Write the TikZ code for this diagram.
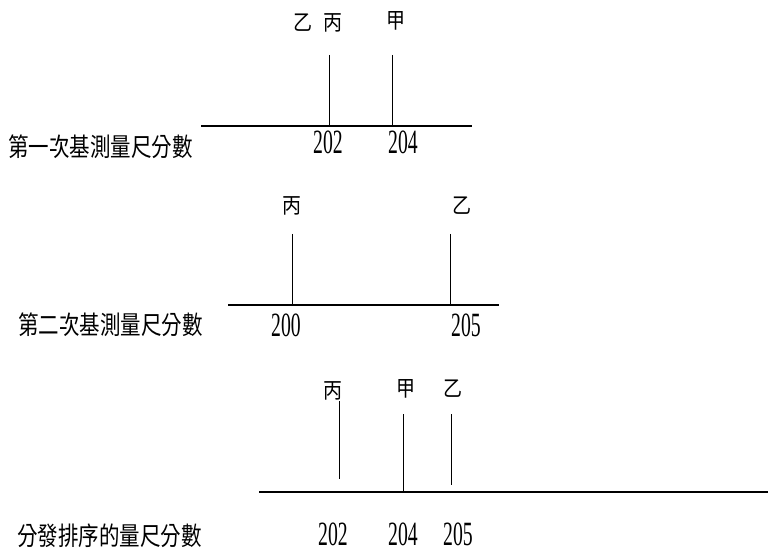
\documentclass[tikz,border=0pt]{standalone}
\usepackage{fontspec}
\newfontfamily\cjk{Noto Sans CJK TC}
\setmainfont{Liberation Serif}
\begin{document}
\begin{tikzpicture}[x=1pt,y=-1pt,
  axis/.style={line width=1.5pt},
  tick/.style={line width=0.9pt},
  rowlabel/.style={font=\cjk\fontsize{20.5}{20.5}\selectfont, inner sep=0pt, anchor=west, yscale=1.25, transform shape},
  who/.style={font=\cjk\fontsize{19}{19}\selectfont, inner sep=0pt, yscale=1.15, transform shape},
  num/.style={font=\fontsize{34}{34}\selectfont, inner sep=0pt, text depth=0pt, anchor=base, xscale=0.58, transform shape}]
\useasboundingbox (0,0) rectangle (768,553);
% Row 1
\node[rowlabel] (r1) at (8,147) {第一次基測量尺分數};
\draw[axis] (201,126) -- (472,126);
\draw[tick] (329,55) -- (329,126);
\draw[tick] (392,55) -- (392,126);
\node[who] (y1) at (303,23) {乙};
\node[who] (b1) at (333,23) {丙};
\node[who] (j1) at (396,21) {甲};
\node[num] (n11) at (328,154) {202};
\node[num] (n12) at (403,154) {204};
% Row 2
\node[rowlabel] (r2) at (18,325) {第二次基測量尺分數};
\draw[axis] (228,305) -- (499,305);
\draw[tick] (292,234) -- (292,305);
\draw[tick] (450,234) -- (450,305);
\node[who] (b2) at (292,206) {丙};
\node[who] (y2) at (462,206) {乙};
\node[num] (n21) at (286,336) {200};
\node[num] (n22) at (466,336) {205};
% Row 3
\node[rowlabel] (r3) at (17,536) {分發排序的量尺分數};
\draw[axis] (259,492) -- (768,492);
\draw[tick] (339,401) -- (339,479);
\draw[tick] (403,414) -- (403,493);
\draw[tick] (451,414) -- (451,485);
\node[who] (b3) at (333,391) {丙};
\node[who] (j3) at (406,389) {甲};
\node[who] (y3) at (453,389) {乙};
\node[num] (n31) at (333,545) {202};
\node[num] (n32) at (403,545) {204};
\node[num] (n33) at (458,545) {205};
\end{tikzpicture}
\end{document}
